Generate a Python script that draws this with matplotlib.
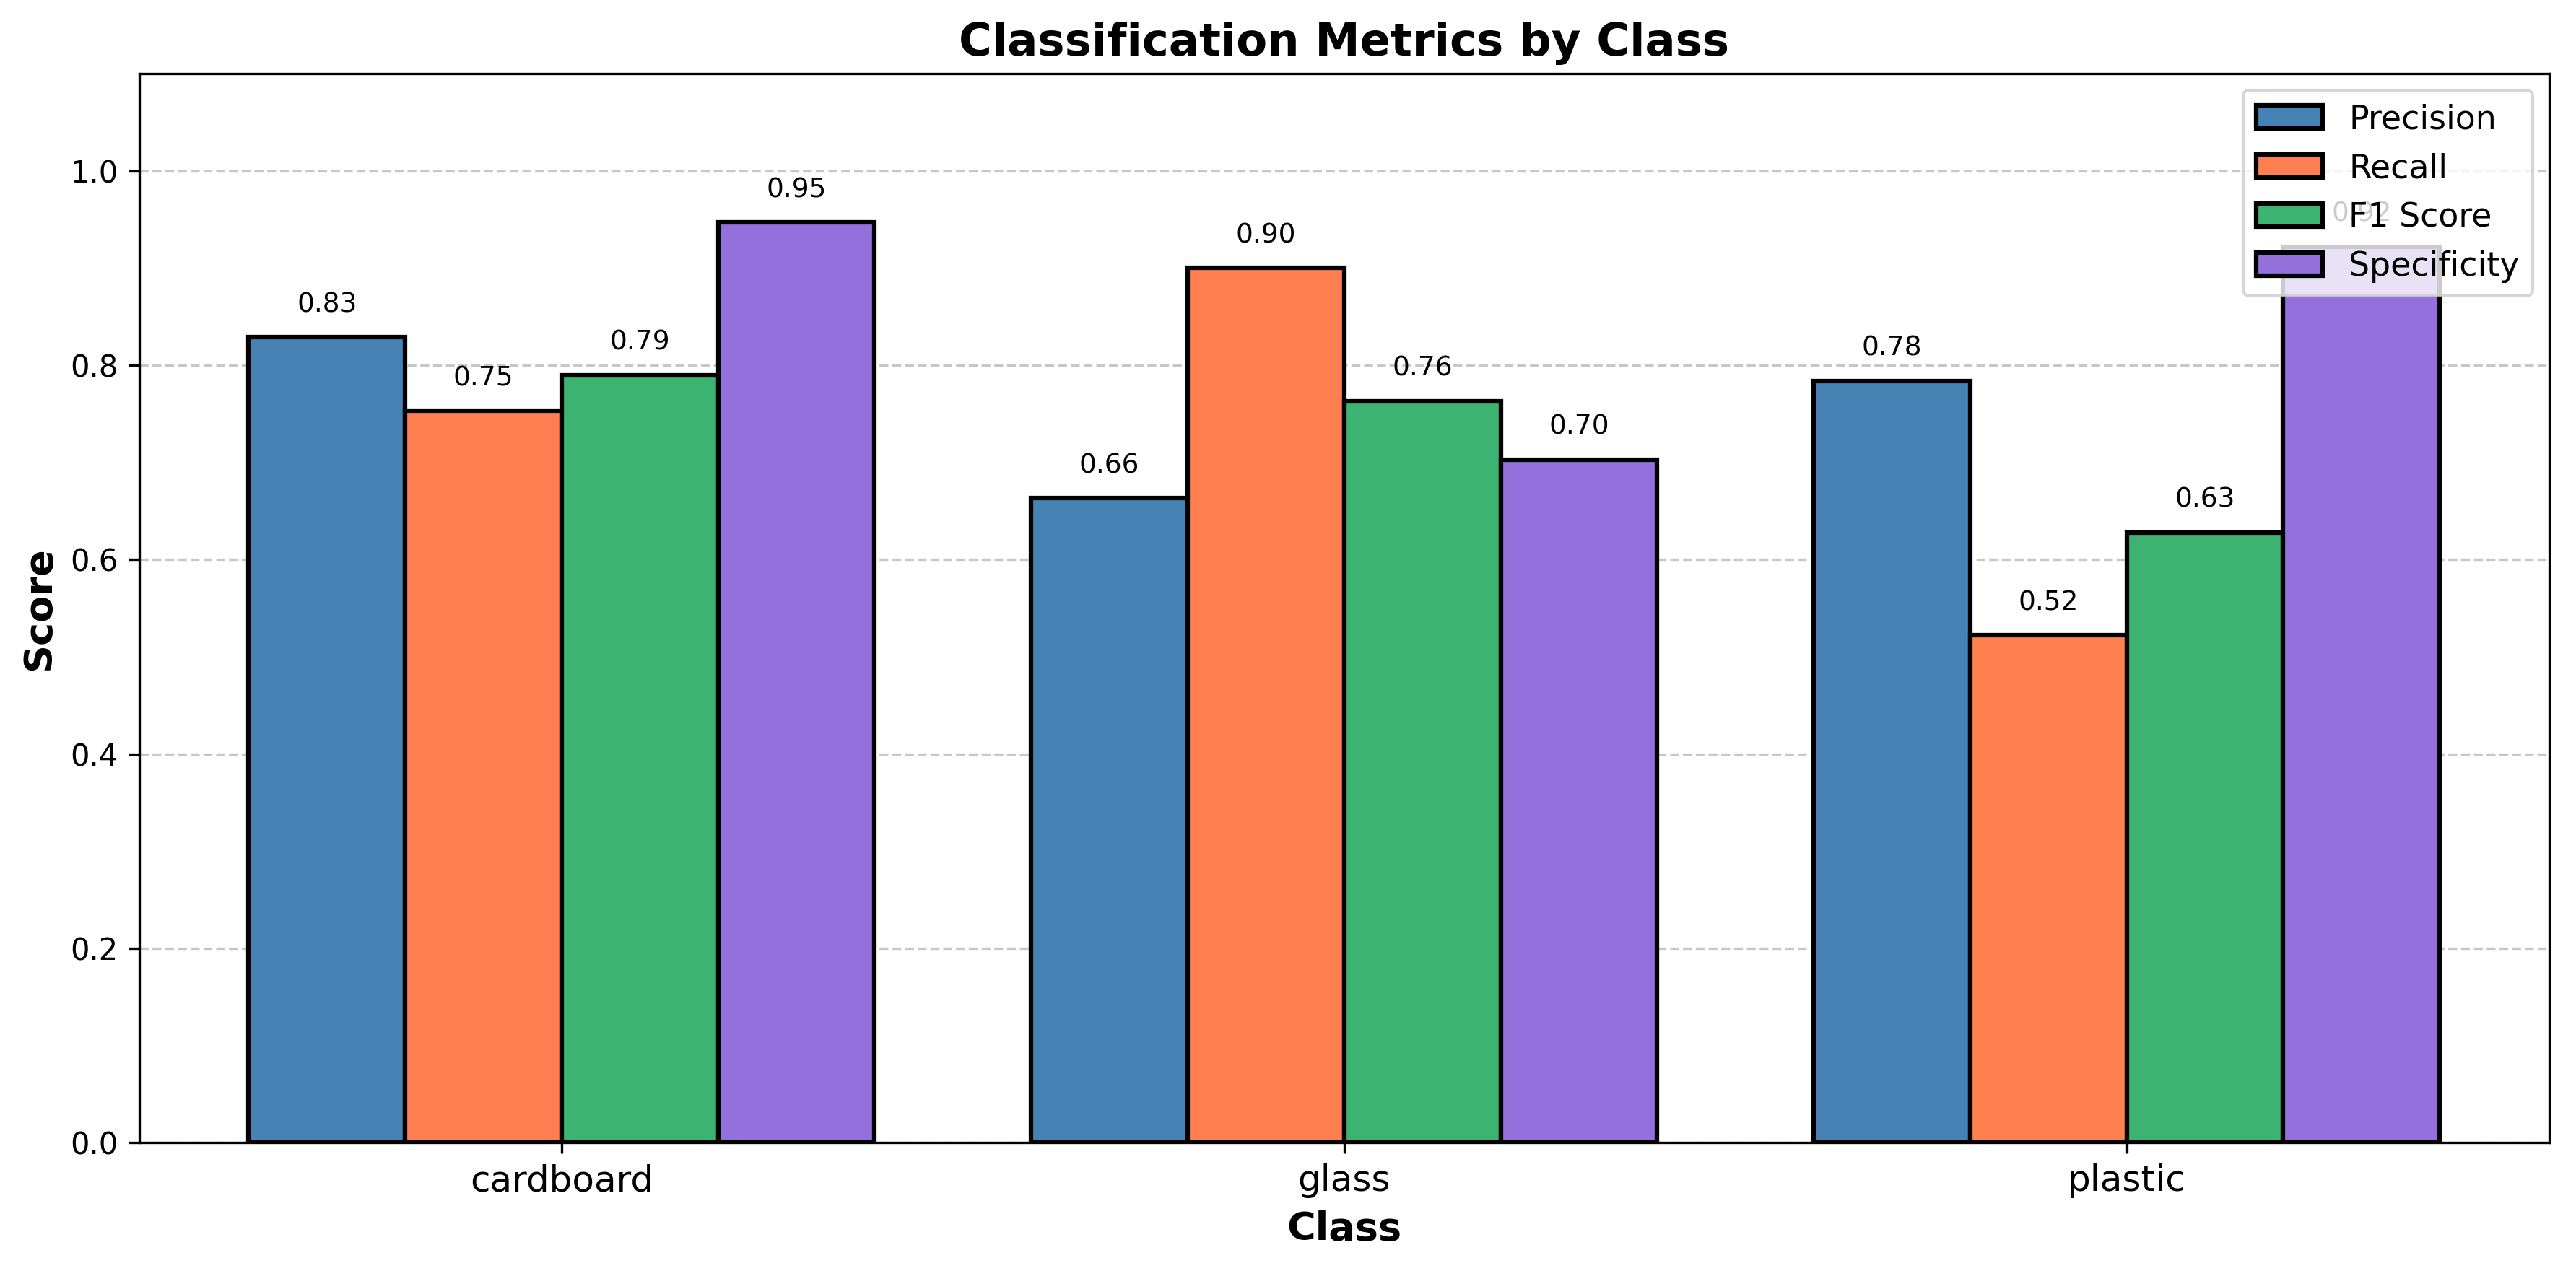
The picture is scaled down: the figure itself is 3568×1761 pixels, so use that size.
import matplotlib.pyplot as plt
import numpy as np

classes = ['cardboard', 'glass', 'plastic']
metric_names = ['Precision', 'Recall', 'F1 Score', 'Specificity']
precision = [0.829, 0.663, 0.784]
recall = [0.753, 0.900, 0.522]
f1_score = [0.790, 0.763, 0.628]
specificity = [0.947, 0.703, 0.922]
colors = ['steelblue', 'coral', 'mediumseagreen', 'mediumpurple']

series = [precision, recall, f1_score, specificity]

fig, ax = plt.subplots(figsize=(3568 / 300, 1761 / 300), dpi=300)
fig.subplots_adjust(left=0.054, right=0.9896, top=0.942, bottom=0.101)

x = np.arange(len(classes))
width = 0.2
for i, (name, vals) in enumerate(zip(metric_names, series)):
    pos = x + (i - 1.5) * width
    bars = ax.bar(pos, vals, width, label=name, color=colors[i],
                  edgecolor='black', linewidth=1.5)
    for b, v in zip(bars, vals):
        ax.text(b.get_x() + b.get_width() / 2, v + 0.02, f'{v:.2f}',
                ha='center', va='bottom', fontsize=9)

ax.set_xlabel('Class', fontsize=13, fontweight='bold')
ax.set_ylabel('Score', fontsize=13, fontweight='bold')
ax.set_title('Classification Metrics by Class', fontsize=15, fontweight='bold')
ax.set_xticks(x)
ax.set_xticklabels(classes, fontsize=12)
ax.set_ylim(0, 1.1)
ax.legend(loc='upper right', fontsize=11)
ax.grid(axis='y', linestyle='--', alpha=0.7)
ax.set_axisbelow(True)

fig.savefig('out.png', dpi=300)
